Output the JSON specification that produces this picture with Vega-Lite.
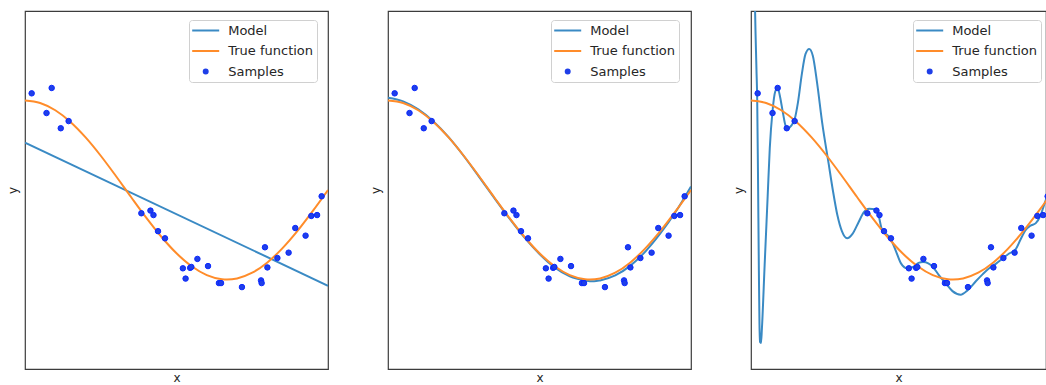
{
  "$schema": "https://vega.github.io/schema/vega-lite/v6.json",
  "padding": {"left": 5, "top": 10, "right": 0, "bottom": 0},
  "autosize": {"type": "pad"},
  "background": "white",
  "spacing": 39,
  "datasets": {
    "samples": [
      {"x": 0.022, "y": 1.08, "series": "Samples"},
      {"x": 0.071, "y": 0.86, "series": "Samples"},
      {"x": 0.088, "y": 1.14, "series": "Samples"},
      {"x": 0.118, "y": 0.69, "series": "Samples"},
      {"x": 0.144, "y": 0.77, "series": "Samples"},
      {"x": 0.384, "y": -0.26, "series": "Samples"},
      {"x": 0.414, "y": -0.23, "series": "Samples"},
      {"x": 0.424, "y": -0.28, "series": "Samples"},
      {"x": 0.439, "y": -0.46, "series": "Samples"},
      {"x": 0.462, "y": -0.54, "series": "Samples"},
      {"x": 0.521, "y": -0.875, "series": "Samples"},
      {"x": 0.530, "y": -0.99, "series": "Samples"},
      {"x": 0.545, "y": -0.87, "series": "Samples"},
      {"x": 0.549, "y": -0.86, "series": "Samples"},
      {"x": 0.569, "y": -0.77, "series": "Samples"},
      {"x": 0.604, "y": -0.85, "series": "Samples"},
      {"x": 0.640, "y": -1.04, "series": "Samples"},
      {"x": 0.647, "y": -1.04, "series": "Samples"},
      {"x": 0.716, "y": -1.085, "series": "Samples"},
      {"x": 0.779, "y": -1.01, "series": "Samples"},
      {"x": 0.781, "y": -1.04, "series": "Samples"},
      {"x": 0.792, "y": -0.64, "series": "Samples"},
      {"x": 0.800, "y": -0.865, "series": "Samples"},
      {"x": 0.833, "y": -0.76, "series": "Samples"},
      {"x": 0.870, "y": -0.70, "series": "Samples"},
      {"x": 0.892, "y": -0.425, "series": "Samples"},
      {"x": 0.926, "y": -0.51, "series": "Samples"},
      {"x": 0.945, "y": -0.29, "series": "Samples"},
      {"x": 0.964, "y": -0.28, "series": "Samples"},
      {"x": 0.979, "y": -0.07, "series": "Samples"}
    ],
    "truef": [
      {"x": 0.0, "y": 1.0, "series": "True function"},
      {"x": 0.05, "y": 0.9724, "series": "True function"},
      {"x": 0.1, "y": 0.891, "series": "True function"},
      {"x": 0.15, "y": 0.7604, "series": "True function"},
      {"x": 0.2, "y": 0.5878, "series": "True function"},
      {"x": 0.25, "y": 0.3827, "series": "True function"},
      {"x": 0.3, "y": 0.1564, "series": "True function"},
      {"x": 0.35, "y": -0.0785, "series": "True function"},
      {"x": 0.4, "y": -0.309, "series": "True function"},
      {"x": 0.45, "y": -0.5225, "series": "True function"},
      {"x": 0.5, "y": -0.7071, "series": "True function"},
      {"x": 0.55, "y": -0.8526, "series": "True function"},
      {"x": 0.6, "y": -0.9511, "series": "True function"},
      {"x": 0.65, "y": -0.9969, "series": "True function"},
      {"x": 0.6667, "y": -1.0, "series": "True function"},
      {"x": 0.7, "y": -0.9877, "series": "True function"},
      {"x": 0.75, "y": -0.9239, "series": "True function"},
      {"x": 0.8, "y": -0.809, "series": "True function"},
      {"x": 0.85, "y": -0.6494, "series": "True function"},
      {"x": 0.9, "y": -0.454, "series": "True function"},
      {"x": 0.95, "y": -0.2334, "series": "True function"},
      {"x": 1.0, "y": 0.0, "series": "True function"}
    ],
    "m1": [
      {"x": 0.0, "y": 0.53, "series": "Model"},
      {"x": 1.0, "y": -1.07, "series": "Model"}
    ],
    "m4": [
      {"x": 0.0, "y": 1.03, "series": "Model"},
      {"x": 0.05, "y": 0.99, "series": "Model"},
      {"x": 0.1, "y": 0.9, "series": "Model"},
      {"x": 0.15, "y": 0.765, "series": "Model"},
      {"x": 0.2, "y": 0.59, "series": "Model"},
      {"x": 0.25, "y": 0.38, "series": "Model"},
      {"x": 0.3, "y": 0.15, "series": "Model"},
      {"x": 0.35, "y": -0.085, "series": "Model"},
      {"x": 0.4, "y": -0.315, "series": "Model"},
      {"x": 0.45, "y": -0.53, "series": "Model"},
      {"x": 0.5, "y": -0.715, "series": "Model"},
      {"x": 0.55, "y": -0.865, "series": "Model"},
      {"x": 0.6, "y": -0.965, "series": "Model"},
      {"x": 0.65, "y": -1.01, "series": "Model"},
      {"x": 0.68, "y": -1.02, "series": "Model"},
      {"x": 0.7, "y": -1.01, "series": "Model"},
      {"x": 0.75, "y": -0.955, "series": "Model"},
      {"x": 0.8, "y": -0.845, "series": "Model"},
      {"x": 0.85, "y": -0.685, "series": "Model"},
      {"x": 0.9, "y": -0.48, "series": "Model"},
      {"x": 0.95, "y": -0.24, "series": "Model"},
      {"x": 1.0, "y": 0.04, "series": "Model"}
    ],
    "m15": [
      {"x": 0.0, "y": 6.0, "series": "Model"},
      {"x": 0.008, "y": 3.5, "series": "Model"},
      {"x": 0.013, "y": 2.1, "series": "Model"},
      {"x": 0.018, "y": 1.35, "series": "Model"},
      {"x": 0.0205, "y": 1.0, "series": "Model"},
      {"x": 0.023, "y": 0.2, "series": "Model"},
      {"x": 0.026, "y": -0.9, "series": "Model"},
      {"x": 0.028, "y": -1.5, "series": "Model"},
      {"x": 0.030, "y": -1.7, "series": "Model"},
      {"x": 0.033, "y": -1.71, "series": "Model"},
      {"x": 0.036, "y": -1.55, "series": "Model"},
      {"x": 0.045, "y": -0.84, "series": "Model"},
      {"x": 0.055, "y": -0.07, "series": "Model"},
      {"x": 0.062, "y": 0.47, "series": "Model"},
      {"x": 0.071, "y": 0.88, "series": "Model"},
      {"x": 0.080, "y": 1.1, "series": "Model"},
      {"x": 0.088, "y": 1.14, "series": "Model"},
      {"x": 0.096, "y": 1.04, "series": "Model"},
      {"x": 0.106, "y": 0.85, "series": "Model"},
      {"x": 0.114, "y": 0.72, "series": "Model"},
      {"x": 0.122, "y": 0.69, "series": "Model"},
      {"x": 0.133, "y": 0.72, "series": "Model"},
      {"x": 0.144, "y": 0.79, "series": "Model"},
      {"x": 0.155, "y": 0.98, "series": "Model"},
      {"x": 0.168, "y": 1.3, "series": "Model"},
      {"x": 0.180, "y": 1.52, "series": "Model"},
      {"x": 0.192, "y": 1.575, "series": "Model"},
      {"x": 0.204, "y": 1.5, "series": "Model"},
      {"x": 0.218, "y": 1.2, "series": "Model"},
      {"x": 0.235, "y": 0.75, "series": "Model"},
      {"x": 0.256, "y": 0.3, "series": "Model"},
      {"x": 0.27, "y": 0.0, "series": "Model"},
      {"x": 0.285, "y": -0.28, "series": "Model"},
      {"x": 0.3, "y": -0.46, "series": "Model"},
      {"x": 0.317, "y": -0.54, "series": "Model"},
      {"x": 0.335, "y": -0.49, "series": "Model"},
      {"x": 0.355, "y": -0.36, "series": "Model"},
      {"x": 0.372, "y": -0.25, "series": "Model"},
      {"x": 0.39, "y": -0.21, "series": "Model"},
      {"x": 0.41, "y": -0.215, "series": "Model"},
      {"x": 0.42, "y": -0.27, "series": "Model"},
      {"x": 0.432, "y": -0.44, "series": "Model"},
      {"x": 0.46, "y": -0.54, "series": "Model"},
      {"x": 0.478, "y": -0.68, "series": "Model"},
      {"x": 0.495, "y": -0.82, "series": "Model"},
      {"x": 0.515, "y": -0.875, "series": "Model"},
      {"x": 0.535, "y": -0.86, "series": "Model"},
      {"x": 0.553, "y": -0.815, "series": "Model"},
      {"x": 0.568, "y": -0.805, "series": "Model"},
      {"x": 0.585, "y": -0.82, "series": "Model"},
      {"x": 0.6, "y": -0.86, "series": "Model"},
      {"x": 0.62, "y": -0.95, "series": "Model"},
      {"x": 0.642, "y": -1.04, "series": "Model"},
      {"x": 0.665, "y": -1.13, "series": "Model"},
      {"x": 0.692, "y": -1.17, "series": "Model"},
      {"x": 0.715, "y": -1.12, "series": "Model"},
      {"x": 0.742, "y": -1.02, "series": "Model"},
      {"x": 0.765, "y": -0.94, "series": "Model"},
      {"x": 0.786, "y": -0.875, "series": "Model"},
      {"x": 0.81, "y": -0.82, "series": "Model"},
      {"x": 0.83, "y": -0.765, "series": "Model"},
      {"x": 0.852, "y": -0.71, "series": "Model"},
      {"x": 0.874, "y": -0.66, "series": "Model"},
      {"x": 0.89, "y": -0.55, "series": "Model"},
      {"x": 0.906, "y": -0.45, "series": "Model"},
      {"x": 0.922, "y": -0.4, "series": "Model"},
      {"x": 0.94, "y": -0.37, "series": "Model"},
      {"x": 0.955, "y": -0.29, "series": "Model"},
      {"x": 0.966, "y": -0.18, "series": "Model"},
      {"x": 0.98, "y": -0.04, "series": "Model"},
      {"x": 1.0, "y": 0.2, "series": "Model"}
    ]
  },
  "config": {
    "font": "DejaVu Sans",
    "view": {"stroke": "#3c3c3c", "strokeWidth": 1.2},
    "axis": {"domain": false, "ticks": false, "labels": false, "grid": false, "titleFont": "DejaVu Sans", "titleFontSize": 12, "titleFontWeight": "normal", "titleColor": "#262626"},
    "axisX": {"titlePadding": 3},
    "axisY": {"titlePadding": 6},
    "legend": {
      "orient": "none", "legendY": 9, "padding": 3, "fillColor": "white", "strokeColor": "#d0d0d0", "cornerRadius": 3,
      "symbolSize": 400, "symbolOffset": -0.8, "labelOffset": 8, "rowPadding": 5.5, "clipHeight": 15, "symbolStrokeWidth": 2,
      "labelFont": "DejaVu Sans", "labelFontSize": 13, "labelColor": "#262626"
    }
  },
  "resolve": {"legend": {"color": "independent"}},
  "hconcat": [
    {
      "width": 303, "height": 358,
      "layer": [
        {"data": {"name": "m1"}, "mark": {"type": "line", "clip": true, "strokeWidth": 2},
         "encoding": {
           "x": {"field": "x", "type": "quantitative", "scale": {"domain": [0, 1], "nice": false, "zero": false}, "axis": {"title": "x"}},
           "y": {"field": "y", "type": "quantitative", "scale": {"domain": [-2, 2], "nice": false, "zero": false}, "axis": {"title": "y"}},
           "color": {"field": "series", "type": "nominal", "scale": {"domain": ["Model", "True function", "Samples"], "range": ["#3a8ac4", "#ff8c2a", "#1f3fe8"]},
             "legend": {"title": null, "legendX": 164, "encode": {"symbols": {"update": {"shape": {"signal": "datum.value === 'Samples' ? 'circle' : 'stroke'"}, "size": {"signal": "datum.value === 'Samples' ? 16 : 729"}, "stroke": {"scale": "color", "field": "value"}, "fill": {"scale": "color", "field": "value"}, "strokeWidth": {"value": 2}}}}}}
         }},
        {"data": {"name": "truef"}, "mark": {"type": "line", "clip": true, "strokeWidth": 2, "interpolate": "monotone"},
         "encoding": {
           "x": {"field": "x", "type": "quantitative"},
           "y": {"field": "y", "type": "quantitative"},
           "color": {"field": "series", "type": "nominal"}
         }},
        {"data": {"name": "samples"}, "mark": {"type": "point", "filled": true, "size": 30, "stroke": "#0a28ff", "strokeWidth": 1, "opacity": 1, "clip": true},
         "encoding": {
           "x": {"field": "x", "type": "quantitative"},
           "y": {"field": "y", "type": "quantitative"},
           "color": {"field": "series", "type": "nominal"}
         }}
      ]
    },
    {
      "width": 303, "height": 358,
      "layer": [
        {"data": {"name": "m4"}, "mark": {"type": "line", "clip": true, "strokeWidth": 2, "interpolate": "monotone"},
         "encoding": {
           "x": {"field": "x", "type": "quantitative", "scale": {"domain": [0, 1], "nice": false, "zero": false}, "axis": {"title": "x"}},
           "y": {"field": "y", "type": "quantitative", "scale": {"domain": [-2, 2], "nice": false, "zero": false}, "axis": {"title": "y"}},
           "color": {"field": "series", "type": "nominal",
             "legend": {"title": null, "legendX": 163, "encode": {"symbols": {"update": {"shape": {"signal": "datum.value === 'Samples' ? 'circle' : 'stroke'"}, "size": {"signal": "datum.value === 'Samples' ? 16 : 729"}, "stroke": {"scale": "color", "field": "value"}, "fill": {"scale": "color", "field": "value"}, "strokeWidth": {"value": 2}}}}}}
         }},
        {"data": {"name": "truef"}, "mark": {"type": "line", "clip": true, "strokeWidth": 2, "interpolate": "monotone"},
         "encoding": {
           "x": {"field": "x", "type": "quantitative"},
           "y": {"field": "y", "type": "quantitative"},
           "color": {"field": "series", "type": "nominal"}
         }},
        {"data": {"name": "samples"}, "mark": {"type": "point", "filled": true, "size": 30, "stroke": "#0a28ff", "strokeWidth": 1, "opacity": 1, "clip": true},
         "encoding": {
           "x": {"field": "x", "type": "quantitative"},
           "y": {"field": "y", "type": "quantitative"},
           "color": {"field": "series", "type": "nominal"}
         }}
      ]
    },
    {
      "width": 295, "height": 358,
      "layer": [
        {"data": {"name": "m15"}, "mark": {"type": "line", "clip": true, "strokeWidth": 2, "interpolate": "monotone"},
         "encoding": {
           "x": {"field": "x", "type": "quantitative", "scale": {"domain": [0, 0.9736], "nice": false, "zero": false}, "axis": {"title": "x"}},
           "y": {"field": "y", "type": "quantitative", "scale": {"domain": [-2, 2], "nice": false, "zero": false}, "axis": {"title": "y"}},
           "color": {"field": "series", "type": "nominal",
             "legend": {"title": null, "legendX": 162, "encode": {"symbols": {"update": {"shape": {"signal": "datum.value === 'Samples' ? 'circle' : 'stroke'"}, "size": {"signal": "datum.value === 'Samples' ? 16 : 729"}, "stroke": {"scale": "color", "field": "value"}, "fill": {"scale": "color", "field": "value"}, "strokeWidth": {"value": 2}}}}}}
         }},
        {"data": {"name": "truef"}, "mark": {"type": "line", "clip": true, "strokeWidth": 2, "interpolate": "monotone"},
         "encoding": {
           "x": {"field": "x", "type": "quantitative"},
           "y": {"field": "y", "type": "quantitative"},
           "color": {"field": "series", "type": "nominal"}
         }},
        {"data": {"name": "samples"}, "mark": {"type": "point", "filled": true, "size": 30, "stroke": "#0a28ff", "strokeWidth": 1, "opacity": 1, "clip": true},
         "encoding": {
           "x": {"field": "x", "type": "quantitative"},
           "y": {"field": "y", "type": "quantitative"},
           "color": {"field": "series", "type": "nominal"}
         }}
      ]
    }
  ]
}
